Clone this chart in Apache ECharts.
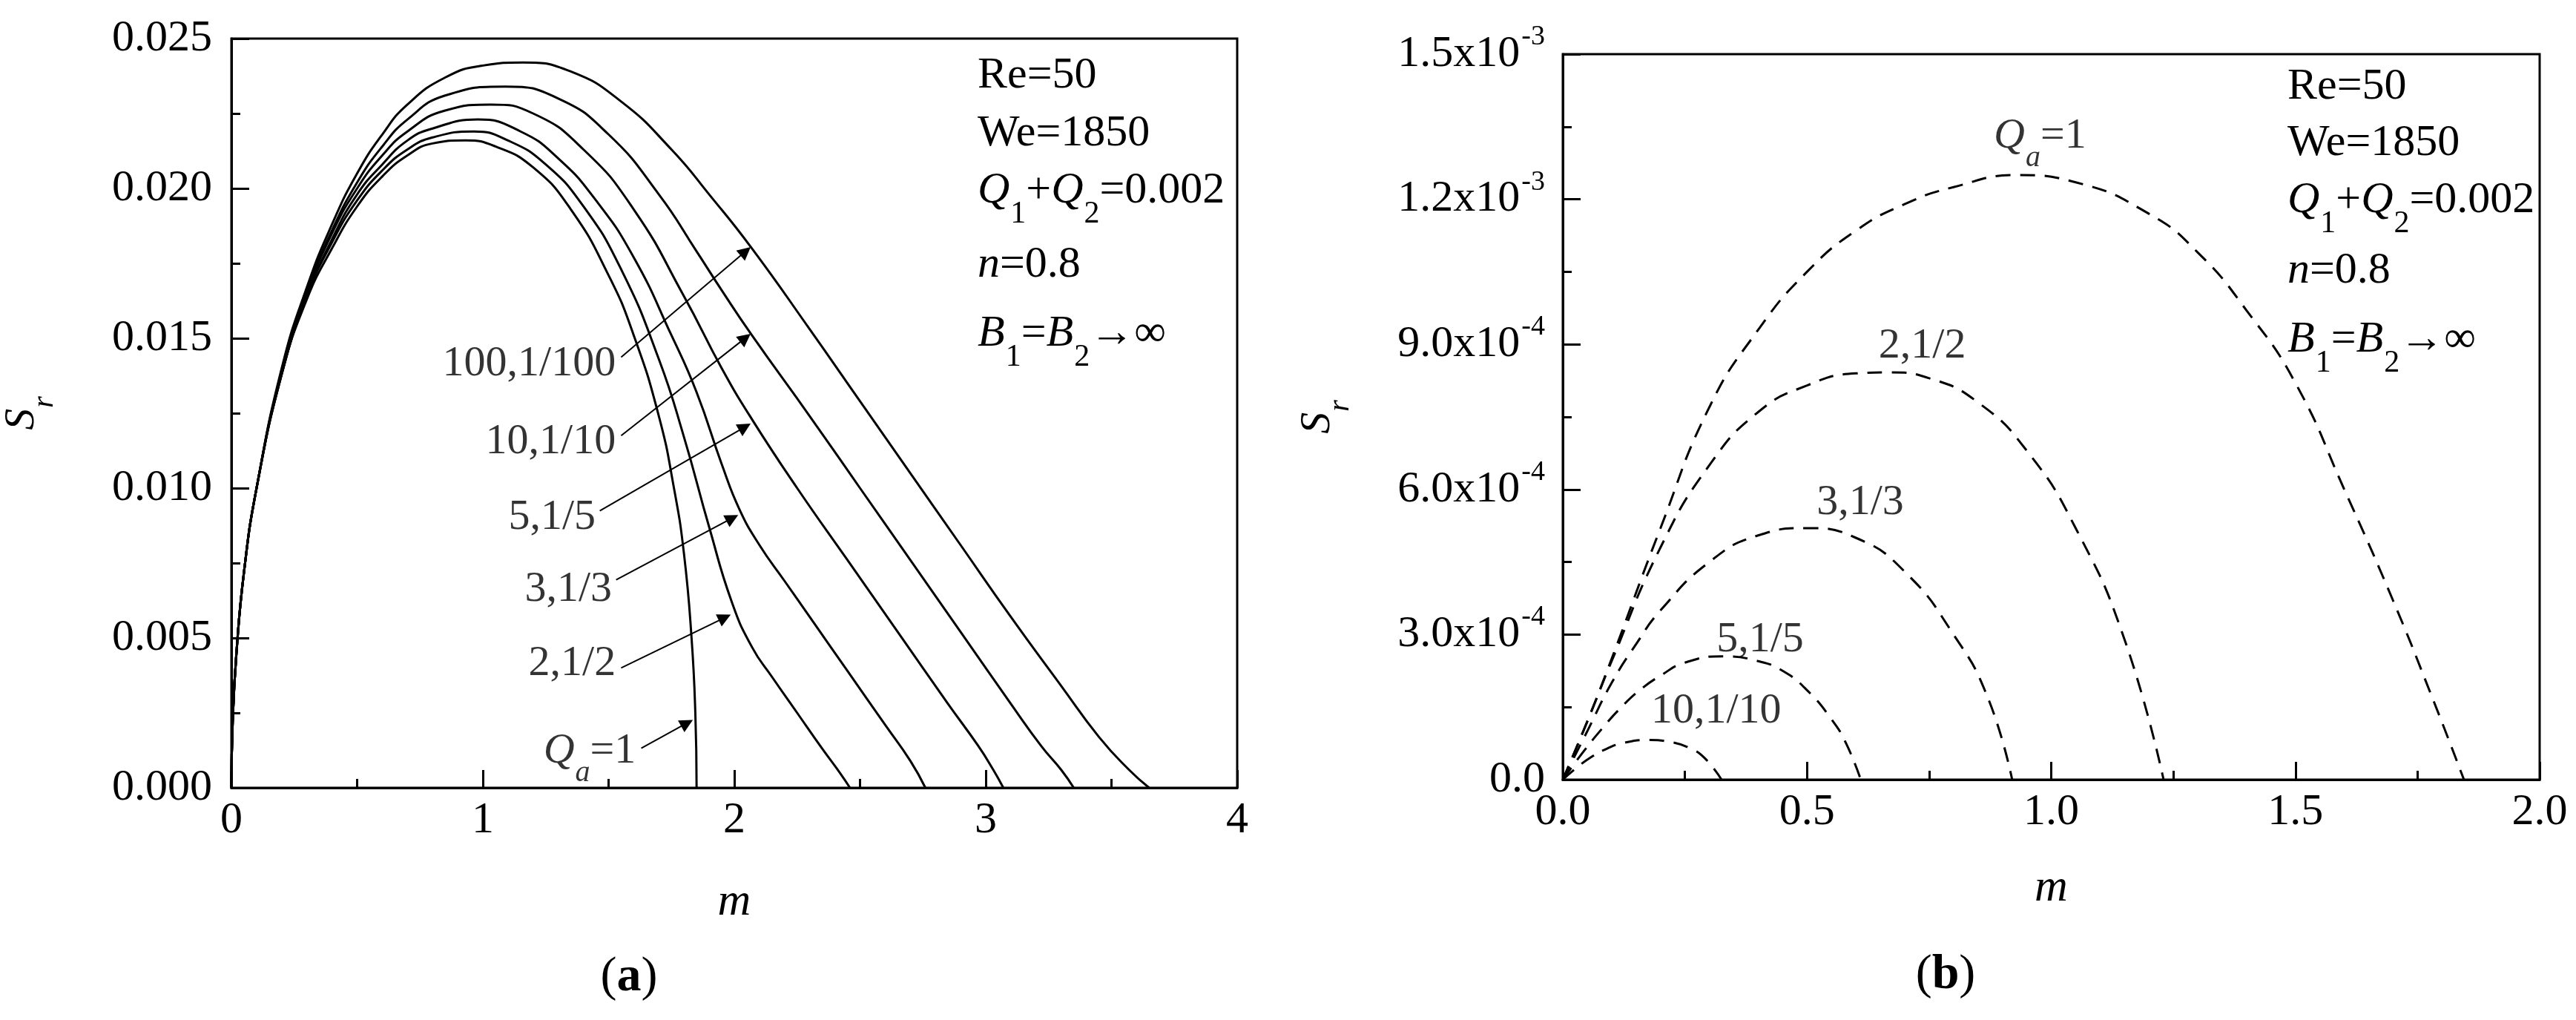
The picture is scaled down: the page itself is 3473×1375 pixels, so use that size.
<!DOCTYPE html>
<html>
<head>
<meta charset="utf-8">
<title>Sr vs m</title>
<script src="https://cdn.jsdelivr.net/npm/echarts@6/dist/echarts.min.js"></script>
<style>
    html, body { margin: 0; padding: 0; background: #fff; }
    #chart { width: 3473px; height: 1375px; }
</style>
</head>
<body>
<div id="chart"></div>
<script>
var FONT = '"Liberation Serif", "Times New Roman", serif';
var BLACK = '#000';

// ---------- panel (a) : solid curves ----------
var aM100 = [0, 0.005, 0.02, 0.05, 0.1, 0.2, 0.3, 0.4, 0.5, 0.6, 0.7, 0.85, 1.0, 1.16, 1.35, 1.55, 1.75, 1.9, 2.07, 2.3, 2.5, 2.7, 2.9, 3.1, 3.3, 3.45, 3.57, 3.65];
var aS100 = [0, 0.0022, 0.0045, 0.0072, 0.0100, 0.0140, 0.0167, 0.0188, 0.0205, 0.0218, 0.0228, 0.0237, 0.0241, 0.0242, 0.0239, 0.0229, 0.0213, 0.0198, 0.0180, 0.0153, 0.0129, 0.0105, 0.0081, 0.0057, 0.0034, 0.0017, 0.0006, 0];

var aM10 = [0, 0.005, 0.02, 0.05, 0.1, 0.2, 0.3, 0.4, 0.5, 0.6, 0.7, 0.85, 1.09, 1.3, 1.5, 1.7, 1.85, 1.95, 2.07, 2.3, 2.5, 2.7, 2.9, 3.1, 3.22, 3.3, 3.35];
var aS10 = [0, 0.0022, 0.0045, 0.0072, 0.0100, 0.0139, 0.0166, 0.0186, 0.0202, 0.0214, 0.0223, 0.0231, 0.0234, 0.0230, 0.0218, 0.0198, 0.0179, 0.0166, 0.0151, 0.0124, 0.0100, 0.0076, 0.0052, 0.0028, 0.0014, 0.0006, 0];

var aM5 = [0, 0.005, 0.02, 0.05, 0.1, 0.2, 0.3, 0.4, 0.5, 0.6, 0.7, 0.85, 1.03, 1.2, 1.4, 1.6, 1.8, 1.95, 2.07, 2.25, 2.45, 2.65, 2.85, 2.97, 3.03, 3.07];
var aS5 = [0, 0.0022, 0.0045, 0.0072, 0.0100, 0.0139, 0.0165, 0.0185, 0.0200, 0.0211, 0.0219, 0.0226, 0.0228, 0.0225, 0.0213, 0.0193, 0.0164, 0.0140, 0.0123, 0.0100, 0.0076, 0.0052, 0.0028, 0.0014, 0.0006, 0];

var aM3 = [0, 0.005, 0.02, 0.05, 0.1, 0.2, 0.3, 0.4, 0.5, 0.6, 0.7, 0.8, 0.98, 1.15, 1.3, 1.45, 1.6, 1.75, 1.85, 1.95, 2.02, 2.1, 2.2, 2.3, 2.45, 2.6, 2.7, 2.76];
var aS3 = [0, 0.0022, 0.0045, 0.0072, 0.0100, 0.0138, 0.0164, 0.0183, 0.0198, 0.0208, 0.0216, 0.0220, 0.0223, 0.0219, 0.0210, 0.0196, 0.0177, 0.0151, 0.0132, 0.0108, 0.0093, 0.0081, 0.0069, 0.0057, 0.0039, 0.0021, 0.0009, 0];

var aM2 = [0, 0.005, 0.02, 0.05, 0.1, 0.2, 0.3, 0.4, 0.5, 0.6, 0.7, 0.8, 0.965, 1.1, 1.25, 1.4, 1.55, 1.7, 1.8, 1.9, 1.99, 2.07, 2.15, 2.25, 2.35, 2.42, 2.46];
var aS2 = [0, 0.0022, 0.0045, 0.0072, 0.0100, 0.0138, 0.0164, 0.0182, 0.0196, 0.0206, 0.0213, 0.0217, 0.0219, 0.0216, 0.0208, 0.0194, 0.0173, 0.0143, 0.0117, 0.0087, 0.0062, 0.0047, 0.0037, 0.0025, 0.0013, 0.0005, 0];

var aM1 = [0, 0.005, 0.02, 0.05, 0.1, 0.2, 0.3, 0.4, 0.5, 0.6, 0.7, 0.8, 0.93, 1.05, 1.2, 1.35, 1.5, 1.6, 1.7, 1.76, 1.8, 1.83, 1.845, 1.85];
var aS1 = [0, 0.0022, 0.0045, 0.0072, 0.0100, 0.0138, 0.0163, 0.0180, 0.0194, 0.0204, 0.0211, 0.0215, 0.0216, 0.0214, 0.0207, 0.0193, 0.0171, 0.0151, 0.0124, 0.0100, 0.0078, 0.0050, 0.0025, 0];

var aNames = ['100,1/100', '10,1/10', '5,1/5', '3,1/3', '2,1/2', 'Qa=1'];
var aLabelM = [1.53, 1.53, 1.45, 1.515, 1.53, 1.61];
var aLabelS = [0.01415, 0.01153, 0.00902, 0.00662, 0.00415, 0.00122];
var aArrowFromM = [1.55, 1.55, 1.465, 1.53, 1.55, 1.63];
var aArrowFromS = [0.01437, 0.01175, 0.00924, 0.00694, 0.0040, 0.00132];
var aArrowToM = [2.045, 2.044, 2.042, 1.992, 1.962, 1.812];
var aArrowToS = [0.01790, 0.01501, 0.01204, 0.00900, 0.00568, 0.00216];

var aXLabels = ['0', '1', '2', '3', '4'];
var aYLabels = ['0.000', '0.005', '0.010', '0.015', '0.020', '0.025'];

// ---------- panel (b) : dashed curves ----------
var bM1 = [0, 0.05, 0.1, 0.2, 0.3, 0.4, 0.5, 0.6, 0.7, 0.8, 0.93, 1.05, 1.2, 1.3, 1.4, 1.5, 1.6, 1.7, 1.78, 1.845];
var bS1 = [0, 1.2e-4, 2.5e-4, 5.2e-4, 7.7e-4, 9.3e-4, 1.05e-3, 1.135e-3, 1.19e-3, 1.225e-3, 1.25e-3, 1.235e-3, 1.17e-3, 1.09e-3, 0.97e-3, 0.82e-3, 0.6e-3, 0.37e-3, 0.17e-3, 0];

var bM2 = [0, 0.05, 0.1, 0.2, 0.3, 0.4, 0.5, 0.6, 0.67, 0.75, 0.85, 0.95, 1.05, 1.15, 1.23];
var bS2 = [0, 1.2e-4, 2.45e-4, 4.8e-4, 6.5e-4, 7.6e-4, 8.15e-4, 8.4e-4, 8.42e-4, 8.3e-4, 7.8e-4, 6.8e-4, 5.2e-4, 2.9e-4, 0];

var bM3 = [0, 0.05, 0.1, 0.15, 0.2, 0.3, 0.4, 0.5, 0.6, 0.7, 0.8, 0.87, 0.92];
var bS3 = [0, 1.0e-4, 2.0e-4, 2.8e-4, 3.5e-4, 4.5e-4, 5.05e-4, 5.2e-4, 5.0e-4, 4.3e-4, 3.0e-4, 1.7e-4, 0];

var bM5 = [0, 0.04, 0.08, 0.12, 0.16, 0.2, 0.25, 0.33, 0.4, 0.45, 0.5, 0.55, 0.58, 0.61];
var bS5 = [0, 5.5e-5, 1.05e-4, 1.5e-4, 1.87e-4, 2.15e-4, 2.42e-4, 2.55e-4, 2.45e-4, 2.25e-4, 1.85e-4, 1.25e-4, 0.75e-4, 0];

var bM10 = [0, 0.03, 0.06, 0.09, 0.12, 0.175, 0.22, 0.26, 0.29, 0.325];
var bS10 = [0, 2.6e-5, 4.8e-5, 6.4e-5, 7.5e-5, 8.2e-5, 7.8e-5, 6.5e-5, 4.5e-5, 0];

var bNames = ['Qa=1', '2,1/2', '3,1/3', '5,1/5', '10,1/10'];
var bLabelM = [0.977, 0.736, 0.609, 0.404, 0.314];
var bLabelS = [1.33e-3, 8.96e-4, 5.72e-4, 2.88e-4, 1.42e-4];

var bXLabels = ['0.0', '0.5', '1.0', '1.5', '2.0'];
var bYMant = ['0.0', '3.0x10', '6.0x10', '9.0x10', '1.2x10', '1.5x10'];
var bYExp = ['', '-4', '-4', '-4', '-3', '-3'];

// ---------- helpers ----------
function pts(ms, ss) {
    return ms.map(function (m, i) { return [m, ss[i]]; });
}

var rich = {
    t: { fontSize: 58, fontFamily: FONT, color: BLACK },
    i: { fontSize: 58, fontFamily: FONT, fontStyle: 'italic', color: BLACK },
    sub: { fontSize: 40, fontFamily: FONT, color: BLACK, padding: [60, 0, 0, 1] },
    subi: { fontSize: 40, fontFamily: FONT, fontStyle: 'italic', color: BLACK, padding: [60, 0, 0, 1] },
    b: { fontSize: 66, fontFamily: FONT, fontWeight: 'bold', color: BLACK },
    p: { fontSize: 66, fontFamily: FONT, color: BLACK }
};

function richName(s) {
    if (s === 'Qa=1') return '{i|Q}{subi|a}{t|=1}';
    return '{t|' + s + '}';
}

function axis(extra) {
    var base = {
        type: 'value',
        axisLine: { show: true, onZero: false, lineStyle: { color: BLACK, width: 3 } },
        axisTick: { show: true, inside: true, length: 24, lineStyle: { color: BLACK, width: 3 } },
        minorTick: { show: true, splitNumber: 2, length: 12, lineStyle: { color: BLACK, width: 3 } },
        splitLine: { show: false },
        minorSplitLine: { show: false },
        nameLocation: 'middle',
        nameTextStyle: { color: BLACK, fontFamily: FONT, fontSize: 62, fontStyle: 'italic', rich: rich }
    };
    for (var k in extra) base[k] = extra[k];
    return base;
}

function lineSeries(grid, ms, ss, dashed) {
    return {
        type: 'line',
        xAxisIndex: grid, yAxisIndex: grid,
        data: pts(ms, ss),
        symbol: 'none',
        smooth: 0.5,
        silent: true,
        lineStyle: { color: BLACK, width: 3, type: dashed ? [20, 13] : 'solid' }
    };
}

var chartDom = document.getElementById('chart');
var myChart = echarts.init(chartDom, null, { renderer: 'canvas' });

var arrows = [];
for (var i = 0; i < aNames.length; i++) {
    arrows.push([{ coord: [aArrowFromM[i], aArrowFromS[i]] }, { coord: [aArrowToM[i], aArrowToS[i]] }]);
}

var labelA = aNames.map(function (n, i) { return { name: n, value: [aLabelM[i], aLabelS[i]] }; });
var labelB = bNames.map(function (n, i) { return { name: n, value: [bLabelM[i], bLabelS[i]] }; });

var series = [
    lineSeries(0, aM100, aS100, false),
    lineSeries(0, aM10, aS10, false),
    lineSeries(0, aM5, aS5, false),
    lineSeries(0, aM3, aS3, false),
    lineSeries(0, aM2, aS2, false),
    lineSeries(0, aM1, aS1, false),
    lineSeries(1, bM1, bS1, true),
    lineSeries(1, bM2, bS2, true),
    lineSeries(1, bM3, bS3, true),
    lineSeries(1, bM5, bS5, true),
    lineSeries(1, bM10, bS10, true),
    {
        type: 'scatter', xAxisIndex: 0, yAxisIndex: 0,
        data: labelA, symbolSize: 1, silent: true,
        itemStyle: { color: 'rgba(0,0,0,0)' },
        label: {
            show: true, position: 'left', distance: 0, color: BLACK,
            textBorderWidth: 0,
            formatter: function (p) { return richName(p.name); },
            rich: rich
        },
        markLine: {
            silent: true,
            symbol: ['none', 'triangle'],
            symbolSize: 18,
            label: { show: false },
            itemStyle: { color: BLACK },
            lineStyle: { color: BLACK, width: 2, type: 'solid', opacity: 1 },
            emphasis: { disabled: true },
            data: arrows
        }
    },
    {
        type: 'scatter', xAxisIndex: 1, yAxisIndex: 1,
        data: labelB, symbolSize: 1, silent: true,
        itemStyle: { color: 'rgba(0,0,0,0)' },
        label: {
            show: true, position: 'inside', color: BLACK,
            textBorderWidth: 0,
            formatter: function (p) { return richName(p.name); },
            rich: rich
        }
    }
];

function annotLines(x, ys) {
    var txt = [
        '{t|Re=50}',
        '{t|We=1850}',
        '{i|Q}{sub|1}{t|+}{i|Q}{sub|2}{t|=0.002}',
        '{i|n}{t|=0.8}',
        '{i|B}{sub|1}{t|=}{i|B}{sub|2}{t|→∞}'
    ];
    var bigRich = {
        t: { fontSize: 60, fontFamily: FONT, color: BLACK },
        i: { fontSize: 60, fontFamily: FONT, fontStyle: 'italic', color: BLACK },
        sub: { fontSize: 42, fontFamily: FONT, color: BLACK, padding: [64, 0, 0, 1] }
    };
    return txt.map(function (t, k) {
        return {
            type: 'text', x: x, y: ys[k], silent: true,
            style: { text: t, rich: bigRich, align: 'left', verticalAlign: 'middle' }
        };
    });
}

var graphic = []
    .concat(annotLines(1318, [102, 180, 257, 357, 450]))
    .concat(annotLines(3084, [117, 193, 270, 365, 458]))
    .concat([
        { type: 'text', x: 848, y: 1318, silent: true,
          style: { text: '{p|(}{b|a}{p|)}', rich: rich, align: 'center', verticalAlign: 'middle' } },
        { type: 'text', x: 2623, y: 1315, silent: true,
          style: { text: '{p|(}{b|b}{p|)}', rich: rich, align: 'center', verticalAlign: 'middle' } }
    ]);

var option = {
    animation: false,
    backgroundColor: '#fff',
    grid: [
        { left: 312, top: 52, width: 1356, height: 1010, show: true, borderColor: BLACK, borderWidth: 3, outerBoundsMode: 'none' },
        { left: 2107, top: 73, width: 1317, height: 978, show: true, borderColor: BLACK, borderWidth: 3, outerBoundsMode: 'none' }
    ],
    xAxis: [
        axis({
            gridIndex: 0, min: 0, max: 4, interval: 1,
            name: 'm', nameGap: 124,
            axisLabel: { color: BLACK, fontFamily: FONT, fontSize: 60, margin: 14,
                formatter: function (v) { return aXLabels[Math.round(v)]; } }
        }),
        axis({
            gridIndex: 1, min: 0, max: 2, interval: 0.5,
            name: 'm', nameGap: 116,
            axisLabel: { color: BLACK, fontFamily: FONT, fontSize: 60, margin: 14,
                formatter: function (v) { return bXLabels[Math.round(v / 0.5)]; } }
        })
    ],
    yAxis: [
        axis({
            gridIndex: 0, min: 0, max: 0.025, interval: 0.005,
            name: '{i|S}{sub|r}', nameRotate: 90, nameGap: 232,
            axisLabel: { color: BLACK, fontFamily: FONT, fontSize: 60, margin: 26,
                formatter: function (v) { return aYLabels[Math.round(v / 0.005)]; } }
        }),
        axis({
            gridIndex: 1, min: 0, max: 0.0015, interval: 0.0003,
            name: '{i|S}{sub|r}', nameRotate: 90, nameGap: 280,
            axisLabel: {
                color: BLACK, fontFamily: FONT, fontSize: 60, margin: 24,
                formatter: function (v) {
                    var k = Math.round(v / 0.0003);
                    if (!bYExp[k]) return '{n|' + bYMant[k] + '}';
                    return '{n|' + bYMant[k] + '}{e|' + bYExp[k] + '}';
                },
                rich: {
                    n: { fontSize: 60, fontFamily: FONT, color: BLACK },
                    e: { fontSize: 38, fontFamily: FONT, color: BLACK, padding: [0, 0, 46, 2] }
                }
            }
        })
    ],
    series: series,
    graphic: graphic
};

option && myChart.setOption(option);
</script>
</body>
</html>
